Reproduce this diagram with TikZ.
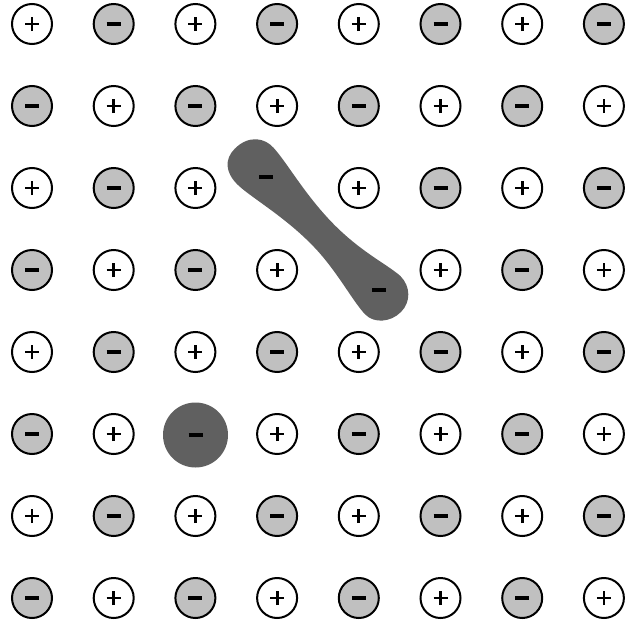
\documentclass[tikz,border=0pt]{standalone}
\definecolor{lightion}{RGB}{192,192,192}
\definecolor{darkion}{RGB}{96,96,96}
\tikzset{
  ion/.style={circle, draw=black, line width=2pt, minimum size=40pt, inner sep=0pt},
  posion/.style={ion, fill=white},
  negion/.style={ion, fill=lightion},
  bigion/.style={circle, fill=darkion, minimum size=65pt, inner sep=0pt},
  signline/.style={line width=2.8pt},
  minusline/.style={line width=3.6pt},
  blob/.style={fill=darkion}
}
\begin{document}
\begin{tikzpicture}[x=1pt,y=-1pt]
\useasboundingbox (0,0) rectangle (624,624);
\foreach \r in {0,...,7}{
  \foreach \c in {0,...,7}{
    \pgfmathsetmacro\xx{32+\c*81.7}
    \pgfmathsetmacro\yy{24+\r*82}
    \pgfmathtruncatemacro\parity{mod(\r+\c,2)}
    \pgfmathtruncatemacro\skipit{((\r==2)&&(\c==3))||((\r==3)&&(\c==4))||((\r==5)&&(\c==2))}
    \ifnum\skipit=0
      \ifnum\parity=0
        \node[posion] (n\r\c) at (\xx,\yy) {};
        \draw[signline] ([xshift=-7pt]n\r\c.center) -- ([xshift=7pt]n\r\c.center);
        \draw[signline] ([yshift=-7pt]n\r\c.center) -- ([yshift=7pt]n\r\c.center);
      \else
        \node[negion] (n\r\c) at (\xx,\yy) {};
        \draw[minusline] ([xshift=-7pt]n\r\c.center) -- ([xshift=7pt]n\r\c.center);
      \fi
    \fi
  }
}
% dumbbell-shaped ion pair
\begin{scope}[shift={(322.5,233.5)}, rotate=-45]
\fill[blob] (-122,2)
  .. controls (-122,-18) and (-108,-27) .. (-95,-26)
  .. controls (-75,-25) and (-40,-15) .. (0,-14.5)
  .. controls (40,-14) and (68,-24) .. (85,-25)
  .. controls (100,-25) and (111,-14) .. (111,0)
  .. controls (111,15) and (100,27) .. (88,27)
  .. controls (70,27) and (35,15.5) .. (0,15.5)
  .. controls (-40,15) and (-78,25.5) .. (-95,25.5)
  .. controls (-112,25.5) and (-122,17) .. (-122,2) -- cycle;
\end{scope}
\coordinate (m1) at (266,177);
\coordinate (m2) at (379,290);
\draw[minusline] ([xshift=-7pt]m1) -- ([xshift=7pt]m1);
\draw[minusline] ([xshift=-7pt]m2) -- ([xshift=7pt]m2);
% large ion
\node[bigion] (big) at (195.5,435) {};
\draw[minusline] ([xshift=-7pt]big.center) -- ([xshift=7pt]big.center);
\end{tikzpicture}
\end{document}
